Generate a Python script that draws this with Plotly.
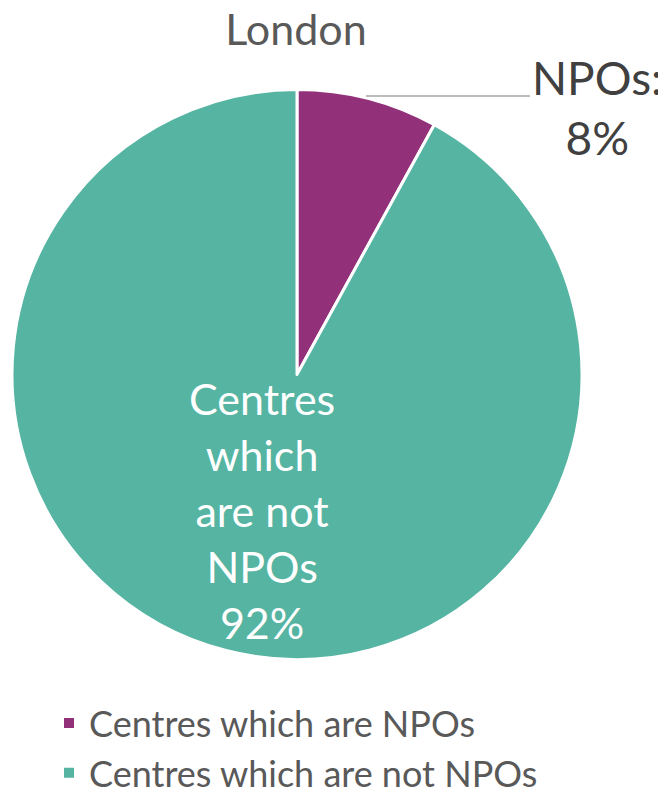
import plotly.graph_objects as go

categories = ["Centres which are NPOs", "Centres which are not NPOs"]
values = [8, 92]
colors = ["#93307A", "#55B4A2"]
title_text = "London"
slice_labels = ["NPOs:<br>8%", "Centres<br>which<br>are not<br>NPOs<br>92%"]

FONT = "Lato, 'Noto Sans', sans-serif"
# page body has an 8px margin; figure sized to fit the 666x791 window
W, H = 658, 783

def px(x):
    return x / W

def py(y):
    return 1 - y / H

fig = go.Figure()
fig.add_trace(go.Pie(
    labels=categories,
    values=values,
    marker=dict(colors=colors, line=dict(color="white", width=3)),
    sort=False,
    direction="clockwise",
    rotation=0,
    textinfo="none",
    hoverinfo="label+percent",
    domain=dict(x=[px(4), px(574)], y=[py(652), py(81)]),
))

fig.update_layout(
    title=dict(text=title_text, x=px(288), xanchor="center", y=py(22), yanchor="middle",
               yref="container", font=dict(family=FONT, size=43, color="#595959")),
)

annotations = [
    dict(text=slice_labels[1], x=px(254), y=py(502), xref="paper", yref="paper",
         xanchor="center", yanchor="middle",
         showarrow=False, font=dict(family=FONT, size=43, color="white"), align="center"),
    dict(text=slice_labels[0], x=px(589), y=py(40), xref="paper", yref="paper",
         xanchor="center", yanchor="top",
         showarrow=False, font=dict(family=FONT, size=46, color="#404040"), align="center"),
]

fig.update_layout(
    width=W, height=H,
    margin=dict(l=0, r=0, t=0, b=0, autoexpand=False),
    paper_bgcolor="white",
    plot_bgcolor="white",
    annotations=annotations,
    shapes=[dict(type="line", xref="paper", yref="paper",
                 x0=px(358), x1=px(522), y0=py(88), y1=py(88),
                 line=dict(color="#A6A6A6", width=1.5))],
    showlegend=True,
    legend=dict(orientation="v", x=px(41), xanchor="left", y=py(685), yanchor="top",
                font=dict(family=FONT, size=36, color="#595959"),
                itemsizing="constant", tracegroupgap=0, bgcolor="rgba(0,0,0,0)"),
)

fig.write_html("out.html")
